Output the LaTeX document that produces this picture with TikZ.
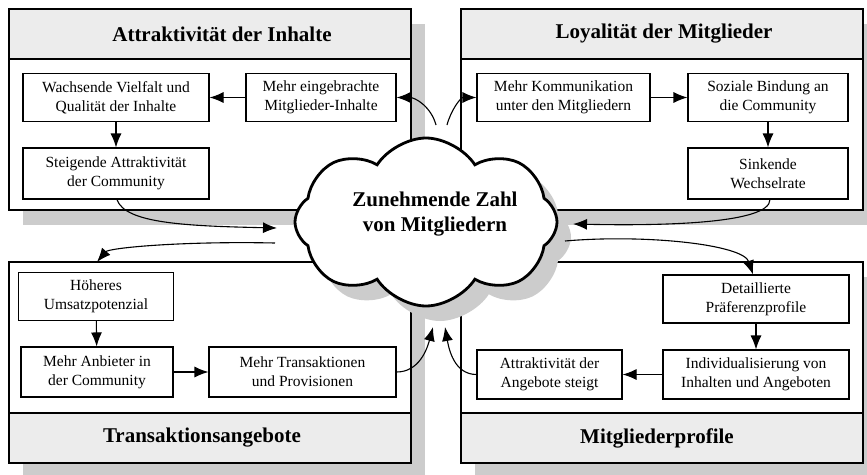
\documentclass[tikz,border=0pt]{standalone}
\usepackage{fontspec}
\setmainfont{Liberation Serif}
\usetikzlibrary{shapes,arrows.meta,calc,shadows}

\tikzset{
  schatten/.style={drop shadow={shadow xshift=14pt, shadow yshift=-15pt, fill=gray!40, opacity=1}},
  panel/.style={draw, line width=1.3pt, fill=white, minimum width=402pt, minimum height=201pt, inner sep=0pt, schatten},
  kopf/.style={draw, line width=1.3pt, fill=gray!15, minimum width=402pt, minimum height=50pt, inner sep=0pt},
  titel/.style={font=\bfseries\fontsize{21}{25}\selectfont},
  kasten/.style={draw, line width=1.1pt, fill=white, minimum height=48pt, inner sep=2pt, align=center,
    font=\fontsize{15.5}{19}\selectfont},
  pfeil/.style={-{Latex[length=14pt,width=11pt]}, line width=1.1pt},
}

\begin{document}
\begin{tikzpicture}[x=1pt, y=1pt]
    \useasboundingbox (0,0) rectangle (867,-474);

    % Felder
    \node[panel] (inhalte) at (210,-109.5) {};
    \node[kopf, anchor=north] (inhaltekopf) at (inhalte.north) {};
    \node[titel] (inhaltetitel) at ([xshift=12pt]inhaltekopf) {Attraktivität der Inhalte};
    \node[panel] (loyal) at (662,-109.5) {};
    \node[kopf, anchor=north] (loyalkopf) at (loyal.north) {};
    \node[titel] (loyaltitel) at ([xshift=2pt]loyalkopf) {Loyalität der Mitglieder};
    \node[panel] (trans) at (210,-362.5) {};
    \node[kopf, anchor=south] (transkopf) at (trans.south) {};
    \node[titel] (transtitel) at ([xshift=-8pt]transkopf) {Transaktionsangebote};
    \node[panel] (profil) at (662,-362.5) {};
    \node[kopf, anchor=south] (profilkopf) at (profil.south) {};
    \node[titel] (profiltitel) at ([xshift=-5pt]profilkopf) {Mitgliederprofile};

    % Kaesten
    \node[kasten, minimum width=186pt] (wachsend) at (116,-97.5) {Wachsende Vielfalt und\\Qualität der Inhalte};
    \node[kasten, minimum width=150pt] (eingebracht) at (321,-97.5) {Mehr eingebrachte\\Mitglieder-Inhalte};
    \node[kasten, minimum width=186pt, minimum height=51pt] (steigend) at (116,-173.5) {Steigende Attraktivität\\der Community};

    \node[kasten, minimum width=173pt] (kommunikation) at (563.5,-97.5) {Mehr Kommunikation\\unter den Mitgliedern};
    \node[kasten, minimum width=160pt] (sozial) at (768,-97.5) {Soziale Bindung an\\die Community};
    \node[kasten, minimum width=160pt, minimum height=51pt] (sinkend) at (768,-173.5) {Sinkende\\Wechselrate};

    \node[kasten, minimum width=155pt] (hoeher) at (96,-296.5) {Höheres\\Umsatzpotenzial};
    \node[kasten, minimum width=152pt, minimum height=50pt] (anbieter) at (97,-372) {Mehr Anbieter in\\der Community};
    \node[kasten, minimum width=187pt, minimum height=50pt] (transaktion) at (302.5,-372) {Mehr Transaktionen\\und Provisionen};

    \node[kasten, minimum width=186pt] (detail) at (756,-299) {Detaillierte\\Präferenzprofile};
    \node[kasten, minimum width=186pt, minimum height=49pt] (individ) at (756,-374.5) {Individualisierung von\\Inhalten und Angeboten};
    \node[kasten, minimum width=145pt, minimum height=49pt] (angebote) at (549.5,-374.5) {Attraktivität der\\Angebote steigt};

    % Wolke
    \node[cloud, cloud puffs=8, cloud puff arc=115, aspect=1.55, draw, line width=2.8pt, fill=white,
      minimum width=262pt, minimum height=168pt, schatten] (zahl) at (426,-222) {};
    \node[font=\bfseries\fontsize{21}{25}\selectfont, align=center] (zahltext) at (435,-214) {Zunehmende Zahl\\von Mitgliedern};

    % Pfeile innen
    \draw[pfeil] (eingebracht) -- (wachsend);
    \draw[pfeil] (wachsend) -- (steigend);
    \draw[pfeil] (kommunikation) -- (sozial);
    \draw[pfeil] (sozial) -- (sinkend);
    \draw[pfeil] (hoeher) -- (anbieter);
    \draw[pfeil] (anbieter) -- (transaktion);
    \draw[pfeil] (detail) -- (individ);
    \draw[pfeil] (individ) -- (angebote);

    % Pfeile zur und von der Wolke
    \draw[pfeil] ($(zahl.center)+(10,97)$) to[out=105,in=0] (eingebracht.east);
    \draw[pfeil] ($(zahl.center)+(21,97)$) to[out=75,in=180] (kommunikation.west);
    \draw[pfeil] ([xshift=1pt]steigend.south) .. controls +(8,-24) and +(-90,2) .. ($(zahl.center)+(-149,-6)$);
    \draw[pfeil] ($(zahl.center)+(-151,-21)$) .. controls +(-95,2) and +(12,14) .. ($(hoeher.north)+(1,10)$);
    \draw[pfeil] ([xshift=2pt]sinkend.south) .. controls +(0,-24) and +(90,-2) .. ($(zahl.center)+(147,-2)$);
    \draw[pfeil] ($(zahl.center)+(139,-19)$) .. controls +(80,7) and +(-10,30) .. ([xshift=-3pt]detail.north);
    \draw[pfeil] (transaktion.east) to[out=0,in=-105] ($(zahl.center)+(7,-105)$);
    \draw[pfeil] (angebote.west) to[out=180,in=-80] ($(zahl.center)+(19,-105)$);
\end{tikzpicture}
\end{document}
